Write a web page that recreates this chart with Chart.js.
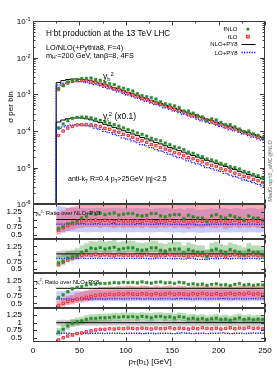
<!DOCTYPE html>
<html><head><meta charset="utf-8">
<script src="https://cdn.jsdelivr.net/npm/chart.js@4/dist/chart.umd.min.js"></script>
<style>html,body{margin:0;padding:0;background:#fff;}canvas{display:block;}</style>
</head><body>
<canvas id="c" width="277" height="372"></canvas>
<script>
// ---------------- data ----------------
const binEdges = [25,30,35,40,45,50,55,60,65,70,75,80,85,90,95,100,105,110,115,120,125,130,135,140,145,150,155,160,165,170,175,180,185,190,195,200,205,210,215,220,225,230,235,240,245,250];
const xTicks = [0,50,100,150,200,250];
const xMinorTicks = [25,75,125,175,225];
const mainDecades = [1e-6,1e-5,1e-4,1e-3,1e-2,1e-1];
const mainDecadeExp = ['-6','-5','-4','-3','-2','-1'];
const ratioTicks = [0.5,0.75,1,1.25];
const ratioTickLabels = ['0.5','0.75','1','1.25'];

// NLO+PY8 per bin (y_b^2, and y_t^2 x0.1)
const nloB = [2.09e-3,2.37e-3,2.54e-3,2.63e-3,2.63e-3,2.57e-3,2.45e-3,2.32e-3,2.16e-3,2.00e-3,1.82e-3,1.66e-3,1.51e-3,1.38e-3,1.245e-3,1.12e-3,1.02e-3,9.23e-4,8.32e-4,7.59e-4,6.84e-4,6.17e-4,5.62e-4,5.07e-4,4.57e-4,4.17e-4,3.76e-4,3.43e-4,3.09e-4,2.82e-4,2.54e-4,2.32e-4,2.09e-4,1.91e-4,1.74e-4,1.58e-4,1.44e-4,1.31e-4,1.19e-4,1.08e-4,9.77e-5,8.87e-5,8.05e-5,7.31e-5,6.64e-5];
const nloT = [1.76e-4,2.00e-4,2.16e-4,2.26e-4,2.29e-4,2.26e-4,2.16e-4,2.02e-4,1.86e-4,1.70e-4,1.53e-4,1.40e-4,1.26e-4,1.15e-4,1.02e-4,9.23e-5,8.32e-5,7.50e-5,6.68e-5,6.10e-5,5.43e-5,4.90e-5,4.47e-5,3.98e-5,3.59e-5,3.24e-5,2.92e-5,2.66e-5,2.37e-5,2.16e-5,1.95e-5,1.76e-5,1.58e-5,1.45e-5,1.32e-5,1.19e-5,1.08e-5,9.79e-6,8.89e-6,7.98e-6,7.24e-6,6.58e-6,5.97e-6,5.42e-6,4.92e-6];

// y_b^2 ratios over NLO+PY8
const ratioB_fNLO = [0.70,0.76,0.86,0.90,0.95,1.05,1.11,1.19,1.17,1.21,1.16,1.19,1.22,1.15,1.18,1.20,1.20,1.14,1.12,1.14,1.20,1.20,1.12,1.09,1.14,1.16,1.16,1.03,1.14,1.09,1.05,1.05,0.92,1.12,1.16,1.09,1.05,1.14,1.09,1.05,0.98,1.12,1.05,1.05,0.98];
const ratioB_fLO = [0.65,0.73,0.80,0.86,0.91,0.95,0.97,0.96,0.98,0.95,0.97,0.96,0.94,0.97,0.95,0.96,0.95,0.96,0.94,0.97,0.95,0.93,0.96,0.95,0.97,0.94,0.96,0.95,0.90,0.95,0.96,0.94,0.97,0.95,0.93,0.96,0.90,0.95,0.97,0.94,0.96,0.95,0.97,0.94,0.96];
const ratioB_LO = [0.85,0.85,0.86,0.85,0.85,0.86,0.85,0.85,0.86,0.85,0.85,0.85,0.86,0.85,0.85,0.85,0.85,0.86,0.85,0.85,0.84,0.85,0.86,0.85,0.85,0.84,0.85,0.83,0.85,0.85,0.82,0.82,0.83,0.85,0.84,0.85,0.85,0.84,0.85,0.85,0.84,0.85,0.85,0.84,0.85];
const bandB_fLO_lo = [0.50,0.56,0.62,0.66,0.70,0.73,0.75,0.74,0.75,0.73,0.75,0.74,0.72,0.75,0.73,0.74,0.73,0.74,0.72,0.75,0.73,0.72,0.74,0.73,0.75,0.72,0.74,0.73,0.69,0.73,0.74,0.72,0.75,0.73,0.72,0.74,0.69,0.73,0.75,0.72,0.74,0.73,0.75,0.72,0.74];
const bandB_fLO_hi = [1.25,1.30,1.38,1.42,1.46,1.5,1.5,1.5,1.5,1.5,1.5,1.5,1.5,1.5,1.5,1.5,1.5,1.5,1.5,1.5,1.5,1.5,1.5,1.5,1.5,1.5,1.5,1.5,1.5,1.5,1.5,1.5,1.5,1.5,1.5,1.5,1.5,1.5,1.5,1.5,1.5,1.5,1.5,1.5,1.5];
const bandB_LO_lo = [0.60,0.59,0.60,0.59,0.58,0.59,0.58,0.58,0.59,0.58,0.58,0.58,0.59,0.58,0.58,0.58,0.58,0.59,0.58,0.58,0.57,0.58,0.59,0.58,0.58,0.57,0.58,0.56,0.58,0.58,0.56,0.56,0.57,0.58,0.57,0.58,0.58,0.57,0.58,0.58,0.57,0.58,0.58,0.57,0.58];
const bandB_LO_hi = [1.45,1.42,1.40,1.39,1.38,1.38,1.37,1.37,1.38,1.37,1.37,1.37,1.38,1.37,1.37,1.37,1.37,1.38,1.37,1.37,1.35,1.37,1.38,1.37,1.37,1.35,1.37,1.33,1.37,1.37,1.32,1.32,1.34,1.37,1.35,1.37,1.37,1.35,1.37,1.37,1.35,1.37,1.37,1.35,1.37];
const bandB_NLO_lo = [0.88,0.89,0.89,0.90,0.89,0.89,0.90,0.89,0.89,0.89,0.90,0.89,0.89,0.89,0.90,0.89,0.89,0.89,0.90,0.89,0.89,0.88,0.89,0.89,0.90,0.89,0.89,0.88,0.89,0.89,0.88,0.89,0.88,0.89,0.88,0.89,0.88,0.88,0.89,0.88,0.88,0.87,0.88,0.87,0.87];
const bandB_NLO_hi = [1.10,1.11,1.11,1.10,1.11,1.11,1.10,1.11,1.11,1.11,1.10,1.11,1.11,1.11,1.10,1.11,1.11,1.11,1.10,1.11,1.11,1.12,1.11,1.11,1.10,1.11,1.11,1.12,1.11,1.11,1.12,1.11,1.12,1.11,1.12,1.11,1.12,1.12,1.11,1.12,1.12,1.13,1.12,1.13,1.13];
const bandB_fNLO_lo = [0.56,0.62,0.72,0.76,0.81,0.91,0.97,1.05,1.03,1.07,1.02,1.05,1.08,1.01,1.04,1.06,1.06,1.00,0.98,1.00,1.06,1.06,0.98,0.95,1.00,1.02,1.02,0.89,1.00,0.95,0.91,0.91,0.78,0.98,1.02,0.95,0.91,1.00,0.95,0.91,0.84,0.98,0.91,0.91,0.84];
const bandB_fNLO_hi = [0.94,1.00,1.10,1.14,1.19,1.29,1.35,1.43,1.41,1.45,1.40,1.43,1.46,1.39,1.42,1.44,1.44,1.38,1.36,1.38,1.44,1.44,1.36,1.33,1.38,1.40,1.40,1.27,1.38,1.33,1.29,1.29,1.16,1.36,1.40,1.33,1.29,1.38,1.33,1.29,1.22,1.36,1.29,1.29,1.22];

// y_t^2 ratios over NLO+PY8
const ratioT_fNLO = [0.69,0.78,0.89,0.98,1.03,1.06,1.11,1.14,1.14,1.16,1.16,1.17,1.19,1.18,1.20,1.19,1.20,1.18,1.21,1.19,1.17,1.20,1.21,1.18,1.19,1.16,1.20,1.18,1.13,1.15,1.12,1.14,1.10,1.13,1.15,1.11,1.12,1.09,1.13,1.16,1.11,1.13,1.10,1.12,1.11];
const ratioT_fLO = [0.43,0.50,0.56,0.59,0.64,0.66,0.70,0.73,0.76,0.78,0.78,0.80,0.79,0.81,0.80,0.82,0.81,0.80,0.82,0.81,0.79,0.82,0.80,0.81,0.83,0.80,0.82,0.81,0.79,0.82,0.80,0.83,0.81,0.80,0.82,0.79,0.81,0.83,0.80,0.82,0.81,0.84,0.81,0.82,0.80];
const ratioT_LO = [0.64,0.65,0.65,0.64,0.65,0.65,0.64,0.65,0.65,0.65,0.64,0.65,0.65,0.65,0.64,0.65,0.65,0.65,0.64,0.65,0.65,0.64,0.65,0.65,0.65,0.64,0.65,0.66,0.65,0.64,0.65,0.65,0.64,0.65,0.65,0.66,0.65,0.64,0.65,0.65,0.64,0.65,0.66,0.65,0.65];
const bandT_fLO_lo = [0.34,0.40,0.45,0.47,0.51,0.53,0.56,0.58,0.61,0.62,0.62,0.64,0.63,0.65,0.64,0.66,0.65,0.64,0.66,0.65,0.63,0.66,0.64,0.65,0.66,0.64,0.66,0.65,0.63,0.66,0.64,0.66,0.65,0.64,0.66,0.63,0.65,0.66,0.64,0.66,0.65,0.67,0.65,0.66,0.64];
const bandT_fLO_hi = [0.57,0.67,0.74,0.78,0.85,0.88,0.93,0.97,1.01,1.04,1.04,1.06,1.05,1.08,1.06,1.09,1.08,1.06,1.09,1.08,1.05,1.09,1.06,1.08,1.10,1.06,1.09,1.08,1.05,1.09,1.06,1.10,1.08,1.06,1.09,1.05,1.08,1.10,1.06,1.09,1.08,1.12,1.08,1.09,1.06];
const bandT_LO_lo = [0.56,0.57,0.57,0.56,0.57,0.57,0.56,0.57,0.57,0.57,0.56,0.57,0.57,0.57,0.56,0.57,0.57,0.57,0.56,0.57,0.57,0.56,0.57,0.57,0.57,0.56,0.57,0.58,0.57,0.56,0.57,0.57,0.56,0.57,0.57,0.58,0.57,0.56,0.57,0.57,0.56,0.57,0.58,0.57,0.57];
const bandT_LO_hi = [0.90,0.91,0.91,0.90,0.92,0.92,0.91,0.93,0.93,0.93,0.92,0.93,0.94,0.94,0.93,0.94,0.94,0.94,0.93,0.94,0.94,0.93,0.95,0.95,0.95,0.94,0.95,0.96,0.95,0.94,0.95,0.95,0.94,0.95,0.95,0.96,0.95,0.94,0.95,0.95,0.94,0.95,0.96,0.95,0.95];
const bandT_NLO_lo = [0.90,0.90,0.91,0.90,0.90,0.91,0.90,0.90,0.90,0.91,0.90,0.90,0.90,0.91,0.90,0.90,0.90,0.89,0.90,0.90,0.89,0.90,0.90,0.89,0.90,0.89,0.89,0.90,0.89,0.89,0.88,0.89,0.89,0.88,0.89,0.88,0.89,0.88,0.88,0.89,0.88,0.88,0.87,0.88,0.88];
const bandT_NLO_hi = [1.09,1.10,1.09,1.10,1.10,1.09,1.10,1.10,1.10,1.09,1.10,1.10,1.10,1.09,1.10,1.10,1.10,1.11,1.10,1.10,1.11,1.10,1.10,1.11,1.10,1.11,1.11,1.10,1.11,1.11,1.12,1.11,1.11,1.12,1.11,1.12,1.11,1.12,1.12,1.11,1.12,1.12,1.13,1.12,1.12];
const bandT_fNLO_lo = [0.57,0.66,0.77,0.86,0.91,0.94,0.99,1.02,1.02,1.04,1.04,1.05,1.07,1.06,1.08,1.07,1.08,1.06,1.09,1.07,1.05,1.08,1.09,1.06,1.07,1.04,1.08,1.06,1.01,1.03,1.00,1.02,0.98,1.01,1.03,0.99,1.00,0.97,1.01,1.04,0.99,1.01,0.98,1.00,0.99];
const bandT_fNLO_hi = [0.83,0.92,1.03,1.12,1.17,1.20,1.25,1.28,1.28,1.30,1.30,1.31,1.33,1.32,1.34,1.33,1.34,1.32,1.35,1.33,1.31,1.34,1.35,1.32,1.33,1.30,1.34,1.32,1.27,1.29,1.26,1.28,1.24,1.27,1.29,1.25,1.26,1.23,1.27,1.30,1.25,1.27,1.24,1.26,1.25];

// ---------------- helpers ----------------
const FONT = "'Liberation Sans', Arial, Helvetica, sans-serif";
const MAIN_MIN = 1e-6, MAIN_MAX = 1e-1, R_MIN = 0.36, R_MAX = 1.5;
const C_GREEN = '#2b8c2b', C_RED = '#e8141e', C_REDFILL = '#ff9c9c', C_BLUE = '#1c1cff';
const BAND_RED = 'rgba(240,60,80,0.42)', BAND_BLUE = 'rgba(90,100,255,0.33)';
const BAND_GREEN = 'rgba(40,150,40,0.33)', BAND_GRAY = 'rgba(0,0,0,0.2)';

const centers = binEdges.slice(0, -1).map((e, i) => (e + binEdges[i + 1]) / 2);
const clampTo = (v, lo, hi) => Math.min(hi, Math.max(lo, v));
const times = (a, b) => a.map((v, i) => v * b[i]);

function stepData(vals, lo, hi, dropTo) {
  const d = [];
  if (dropTo !== undefined) d.push({x: binEdges[0], y: dropTo});
  vals.forEach((v, i) => d.push({x: binEdges[i], y: clampTo(v, lo, hi)}));
  d.push({x: binEdges[binEdges.length - 1], y: clampTo(vals[vals.length - 1], lo, hi)});
  return d;
}
function pointData(vals) { return vals.map((v, i) => ({x: centers[i], y: v})); }

function histLine(vals, axis, color, dashed, lo, hi, drop) {
  return {data: stepData(vals, lo, hi, drop), yAxisID: axis, borderColor: color,
    borderWidth: dashed ? 1.3 : 1, borderDash: dashed ? [1.3, 1.2] : [], stepped: true,
    pointRadius: 0, fill: false, order: dashed ? 4 : 5};
}
function markers(vals, axis, isLO) {
  return {data: pointData(vals), yAxisID: axis, showLine: false, pointStyle: 'rect',
    pointRadius: isLO ? 1.75 : 1.9, borderWidth: isLO ? 0.8 : 0.4,
    pointBackgroundColor: isLO ? C_REDFILL : C_GREEN, pointBorderColor: isLO ? C_RED : C_GREEN,
    order: isLO ? 2 : 1};
}
function band(lo, hi, axis, color) {
  return [
    {data: stepData(lo, R_MIN, R_MAX), yAxisID: axis, borderWidth: 0, pointRadius: 0, stepped: true, fill: false, order: 10},
    {data: stepData(hi, R_MIN, R_MAX), yAxisID: axis, borderWidth: 0, pointRadius: 0, stepped: true, fill: '-1', backgroundColor: color, order: 10}
  ];
}
function unitLine(axis) {
  return {data: [{x: binEdges[0], y: 1}, {x: binEdges[binEdges.length - 1], y: 1}], yAxisID: axis,
    borderColor: '#000', borderWidth: 1, pointRadius: 0, fill: false, order: 5};
}

const datasets = [
  // main panel
  markers(times(nloB, ratioB_fNLO), 'yM', false),
  markers(times(nloB, ratioB_fLO), 'yM', true),
  histLine(nloB, 'yM', '#000', false, MAIN_MIN, MAIN_MAX, MAIN_MIN),
  histLine(times(nloB, ratioB_LO), 'yM', C_BLUE, true, MAIN_MIN, MAIN_MAX, MAIN_MIN),
  markers(times(nloT, ratioT_fNLO), 'yM', false),
  markers(times(nloT, ratioT_fLO), 'yM', true),
  histLine(nloT, 'yM', '#000', false, MAIN_MIN, MAIN_MAX, MAIN_MIN),
  histLine(times(nloT, ratioT_LO), 'yM', C_BLUE, true, MAIN_MIN, MAIN_MAX, MAIN_MIN),
  // ratio 1 : y_b^2, LO bands
  ...band(bandB_fLO_lo, bandB_fLO_hi, 'yR1', BAND_RED),
  ...band(bandB_LO_lo, bandB_LO_hi, 'yR1', BAND_BLUE),
  unitLine('yR1'),
  histLine(ratioB_LO, 'yR1', C_BLUE, true, R_MIN, R_MAX),
  markers(ratioB_fNLO, 'yR1', false),
  markers(ratioB_fLO, 'yR1', true),
  // ratio 2 : y_b^2, NLO bands
  ...band(bandB_NLO_lo, bandB_NLO_hi, 'yR2', BAND_GRAY),
  ...band(bandB_fNLO_lo, bandB_fNLO_hi, 'yR2', BAND_GREEN),
  unitLine('yR2'),
  histLine(ratioB_LO, 'yR2', C_BLUE, true, R_MIN, R_MAX),
  markers(ratioB_fNLO, 'yR2', false),
  markers(ratioB_fLO, 'yR2', true),
  // ratio 3 : y_t^2, LO bands
  ...band(bandT_fLO_lo, bandT_fLO_hi, 'yR3', BAND_RED),
  ...band(bandT_LO_lo, bandT_LO_hi, 'yR3', BAND_BLUE),
  unitLine('yR3'),
  histLine(ratioT_LO, 'yR3', C_BLUE, true, R_MIN, R_MAX),
  markers(ratioT_fNLO, 'yR3', false),
  markers(ratioT_fLO, 'yR3', true),
  // ratio 4 : y_t^2, NLO bands
  ...band(bandT_NLO_lo, bandT_NLO_hi, 'yR4', BAND_GRAY),
  ...band(bandT_fNLO_lo, bandT_fNLO_hi, 'yR4', BAND_GREEN),
  unitLine('yR4'),
  histLine(ratioT_LO, 'yR4', C_BLUE, true, R_MIN, R_MAX),
  markers(ratioT_fNLO, 'yR4', false),
  markers(ratioT_fLO, 'yR4', true)
];

function ratioScale() {
  return {type: 'linear', min: R_MIN, max: R_MAX, position: 'left', stack: 'panels', stackWeight: 34.5,
    grid: {display: false}, border: {display: false},
    afterBuildTicks: s => { s.ticks = ratioTicks.map(v => ({value: v})); },
    ticks: {autoSkip: false, padding: 3, color: '#000', font: {family: FONT, size: 8},
      callback: (v) => ratioTickLabels[ratioTicks.indexOf(v)]},
    afterFit: s => { s.width = 33; }};
}

function rich(ctx, parts, x, y, size, align) {
  const segs = parts.map(([t, m]) => {
    m = m || 0;
    const fs = m === 0 ? size : size * 0.68;
    const dy = m === 1 ? -size * 0.38 : m === -1 ? size * 0.22 : m === 2 ? -size * 0.05 : 0;
    ctx.font = fs + 'px ' + FONT;
    return {t, fs, dy, w: ctx.measureText(t).width};
  });
  const total = segs.reduce((a, s) => a + s.w, 0);
  let cx = align === 'right' ? x - total : align === 'center' ? x - total / 2 : x;
  ctx.textAlign = 'left';
  ctx.textBaseline = 'alphabetic';
  for (const s of segs) { ctx.font = s.fs + 'px ' + FONT; ctx.fillText(s.t, cx, y + s.dy); cx += s.w; }
}

const panelClip = {
  id: 'panelClip',
  beforeDatasetDraw(chart, args) {
    const ys = chart.scales[args.meta.yAxisID];
    const ctx = chart.ctx;
    ctx.save();
    ctx.beginPath();
    ctx.rect(chart.chartArea.left, ys.top, chart.chartArea.right - chart.chartArea.left, ys.bottom - ys.top);
    ctx.clip();
  },
  afterDatasetDraw(chart) { chart.ctx.restore(); }
};

const decor = {
  id: 'decor',
  afterDraw(chart) {
    const ctx = chart.ctx;
    const xs = chart.scales.x;
    const L = chart.chartArea.left, R = chart.chartArea.right;
    const panels = ['yM', 'yR1', 'yR2', 'yR3', 'yR4'].map(id => chart.scales[id]);
    ctx.save();
    ctx.strokeStyle = '#3a3a3a';
    ctx.lineWidth = 1;
    // frames + x ticks
    panels.forEach(s => {
      const t = Math.round(s.top) + 0.5, b = Math.round(s.bottom) - 0.5;
      ctx.strokeRect(Math.round(L) + 0.5, t, Math.round(R) - Math.round(L) - 1, b - t);
      ctx.beginPath();
      xTicks.forEach(v => { const px = Math.round(xs.getPixelForValue(v)) + 0.5; ctx.moveTo(px, t); ctx.lineTo(px, t + 4); ctx.moveTo(px, b); ctx.lineTo(px, b - 4); });
      xMinorTicks.forEach(v => { const px = Math.round(xs.getPixelForValue(v)) + 0.5; ctx.moveTo(px, t); ctx.lineTo(px, t + 2); ctx.moveTo(px, b); ctx.lineTo(px, b - 2); });
      ctx.stroke();
    });
    // main y ticks
    const m = panels[0];
    ctx.beginPath();
    mainDecades.forEach((d, k) => {
      const py = Math.round(m.getPixelForValue(d)) + 0.5;
      ctx.moveTo(L, py); ctx.lineTo(L + 5, py); ctx.moveTo(R, py); ctx.lineTo(R - 5, py);
      if (k < mainDecades.length - 1) {
        for (let f = 2; f <= 9; f++) {
          const pm = Math.round(m.getPixelForValue(d * f)) + 0.5;
          ctx.moveTo(L, pm); ctx.lineTo(L + 2.5, pm); ctx.moveTo(R, pm); ctx.lineTo(R - 2.5, pm);
        }
      }
    });
    // ratio y ticks
    panels.slice(1).forEach(s => {
      ratioTicks.forEach(v => { const py = Math.round(s.getPixelForValue(v)) + 0.5; ctx.moveTo(L, py); ctx.lineTo(L + 4, py); ctx.moveTo(R, py); ctx.lineTo(R - 4, py); });
    });
    ctx.stroke();

    ctx.fillStyle = '#000';
    // main y tick labels
    mainDecades.forEach((d, k) => {
      const py = m.getPixelForValue(d);
      rich(ctx, [['10'], [mainDecadeExp[k], 1]], 30.5, py + 3, 8, 'right');
    });
    // texts in main panel
    rich(ctx, [['H'], ['-', 1], ['bt production at the 13 TeV LHC']], 46, 36, 8.2);
    rich(ctx, [['LO/NLO(+Pythia8, F=4)']], 46, 50, 7.3);
    rich(ctx, [['m'], ['H', -1], ['-', 2], ['=200 GeV, tan\u03B2=8, 4FS']], 46, 57.5, 7.3);
    rich(ctx, [['y'], ['b', -1], ['2', 1]], 103, 79, 8.5);
    rich(ctx, [['y'], ['t', -1], ['2', 1], [' (x0.1)']], 103, 119, 8.5);
    rich(ctx, [['anti-k'], ['T', -1], [' R=0.4 p'], ['T', -1], ['>25GeV |\u03B7|<2.5']], 68, 181, 7);
    // legend
    const legY = [29, 36.5, 44, 52.5];
    rich(ctx, [['fNLO']], 237.5, 31, 6, 'right');
    rich(ctx, [['fLO']], 237.5, 38.5, 6, 'right');
    rich(ctx, [['NLO+PY8']], 237.5, 46, 6, 'right');
    rich(ctx, [['LO+PY8']], 237.5, 54.5, 6, 'right');
    ctx.fillStyle = C_GREEN; ctx.fillRect(246.5, legY[0] - 1.2, 2.8, 2.8);
    ctx.fillStyle = C_REDFILL; ctx.strokeStyle = C_RED; ctx.lineWidth = 0.8;
    ctx.fillRect(246.5, legY[1] - 1.2, 2.8, 2.8); ctx.strokeRect(246.5, legY[1] - 1.2, 2.8, 2.8);
    ctx.strokeStyle = '#000'; ctx.lineWidth = 1;
    ctx.beginPath(); ctx.moveTo(241.5, legY[2] + 0.5); ctx.lineTo(255.5, legY[2] + 0.5); ctx.stroke();
    ctx.strokeStyle = C_BLUE; ctx.lineWidth = 1.3; ctx.setLineDash([1.3, 1.2]);
    ctx.beginPath(); ctx.moveTo(241.5, legY[3]); ctx.lineTo(255.5, legY[3]); ctx.stroke();
    ctx.setLineDash([]);
    // ratio panel labels
    ctx.fillStyle = '#000';
    rich(ctx, [['y'], ['b', -1], ['2', 1], [': Ratio over NLO+PY8']], 35.5, panels[1].getPixelForValue(1.25) + 2.8, 5.8);
    rich(ctx, [['y'], ['t', -1], ['2', 1], [': Ratio over NLO+PY8']], 35.5, panels[3].getPixelForValue(1.25) + 2.8, 5.8);
    // axis titles
    rich(ctx, [['p'], ['T', -1], ['(b'], ['1', -1], [') [GeV]']], (L + R) / 2 + 1, 363.5, 8, 'center');
    ctx.save();
    ctx.translate(12.5, 107); ctx.rotate(-Math.PI / 2);
    rich(ctx, [['\u03C3 per bin']], 0, 0, 8, 'center');
    ctx.restore();
    ctx.save();
    ctx.fillStyle = '#6a6a6a';
    ctx.translate(271.5, 171); ctx.rotate(-Math.PI / 2);
    rich(ctx, [['MadGraph5_aMC@NLO']], 0, 0, 5.6, 'center');
    ctx.restore();
    ctx.restore();
  }
};

new Chart(document.getElementById('c'), {
  type: 'line',
  data: {datasets},
  options: {
    responsive: false, animation: false, devicePixelRatio: 1, events: [],
    layout: {padding: {left: 0, right: 12, top: 21, bottom: 0}},
    plugins: {legend: {display: false}, tooltip: {enabled: false}, title: {display: false}},
    scales: {
      x: {type: 'linear', min: 0, max: 250, position: 'bottom',
        grid: {display: false, drawTicks: false}, border: {display: false},
        afterBuildTicks: s => { s.ticks = xTicks.map(v => ({value: v})); },
        ticks: {autoSkip: false, maxRotation: 0, padding: 4, color: '#000', font: {family: FONT, size: 8}},
        afterFit: s => { s.height = 30; }},
      yR4: ratioScale(),
      yR3: ratioScale(),
      yR2: ratioScale(),
      yR1: ratioScale(),
      yM: {type: 'logarithmic', min: MAIN_MIN, max: MAIN_MAX, position: 'left', stack: 'panels', stackWeight: 184,
        grid: {display: false}, border: {display: false}, ticks: {display: false},
        afterFit: s => { s.width = 33; }}
    }
  },
  plugins: [panelClip, decor]
});
</script>
</body></html>
